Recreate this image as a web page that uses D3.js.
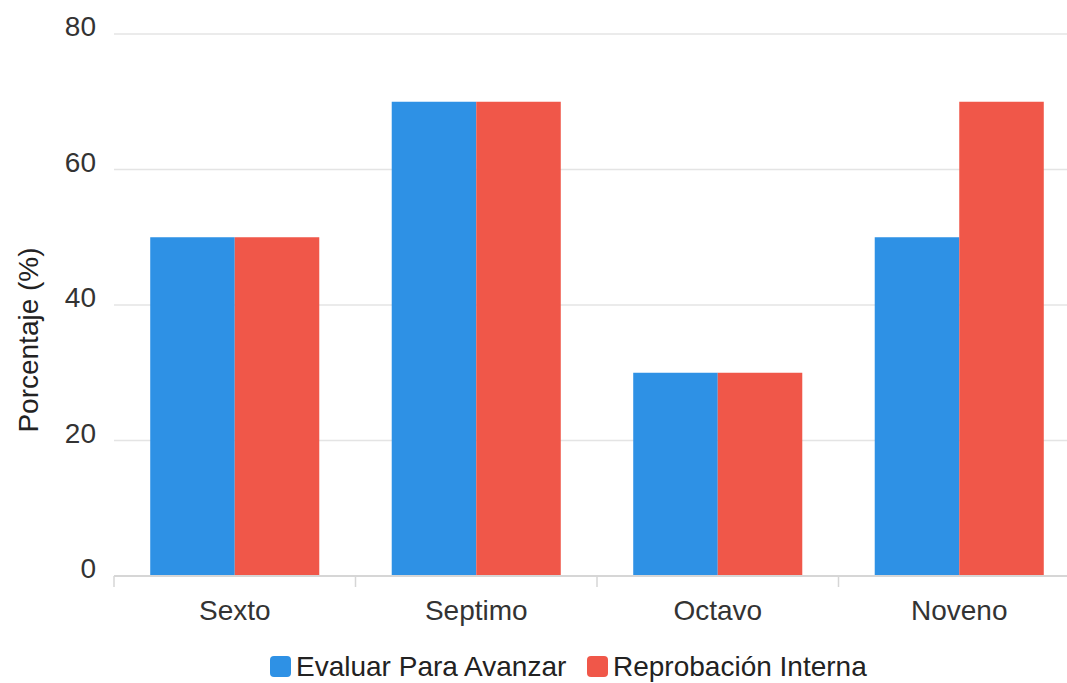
<!DOCTYPE html>
<html>
<head>
<meta charset="utf-8">
<script src="https://cdn.jsdelivr.net/npm/d3@7"></script>
<style>
  html, body { margin: 0; padding: 0; background: #fff; }
  svg { display: block; font-family: "Liberation Sans", Arial, sans-serif; }
</style>
</head>
<body>
<svg id="chart" width="1067" height="683"></svg>
<script>
// Grades and the share (%) of each indicator
const categories = ["Sexto", "Septimo", "Octavo", "Noveno"];
const seriesNames = ["Evaluar Para Avanzar", "Reprobación Interna"];
const evaluarValues = [50, 70, 30, 50];
const reprobacionValues = [50, 70, 30, 70];
const yTicks = [0, 20, 40, 60, 80];
const colors = ["#2e91e5", "#f05749"];

const seriesValues = [evaluarValues, reprobacionValues];
const rows = categories.map((c, i) => ({
  cat: c,
  vals: seriesNames.map((s, j) => ({ key: s, value: seriesValues[j][i], color: colors[j] }))
}));

const svg = d3.select("#chart");
const fontFamily = "'Liberation Sans', Arial, sans-serif";
const plotLeft = 114, plotRight = 1080, plotTop = 34, plotBottom = 576;

const x0 = d3.scaleBand().domain(categories).range([plotLeft, plotRight]).padding(0);
const bw = x0.bandwidth();
const x1 = d3.scaleBand().domain(seriesNames).range([bw * 0.15, bw * 0.85]).padding(0);
const y = d3.scaleLinear().domain([0, 80]).range([plotBottom, plotTop]);

// horizontal gridlines
svg.append("g")
  .selectAll("line")
  .data(yTicks.filter(t => t > 0))
  .join("line")
  .attr("x1", plotLeft).attr("x2", plotRight)
  .attr("y1", d => y(d)).attr("y2", d => y(d))
  .attr("stroke", "#e4e4e4").attr("stroke-width", 1.6);

// y tick labels
svg.append("g")
  .selectAll("text")
  .data(yTicks)
  .join("text")
  .attr("x", 96)
  .attr("y", d => y(d) + 2)
  .attr("text-anchor", "end")
  .attr("font-size", 28)
  .attr("fill", "#333")
  .text(d => d);

// bars
const groups = svg.append("g")
  .selectAll("g")
  .data(rows)
  .join("g")
  .attr("transform", d => `translate(${x0(d.cat)},0)`);

groups.selectAll("rect")
  .data(d => d.vals)
  .join("rect")
  .attr("x", d => x1(d.key))
  .attr("width", x1.bandwidth())
  .attr("y", d => y(d.value))
  .attr("height", d => y(0) - y(d.value))
  .attr("fill", d => d.color);

// x axis
const xAxis = d3.axisBottom(x0).tickSize(0).tickPadding(0);
const gx = svg.append("g").attr("transform", `translate(0,${plotBottom})`).call(xAxis);
gx.select(".domain").remove();
gx.selectAll("text")
  .attr("font-size", 28)
  .attr("font-family", fontFamily)
  .attr("fill", "#333")
  .attr("dy", null)
  .attr("y", 44);

svg.append("line")
  .attr("x1", plotLeft).attr("x2", plotRight)
  .attr("y1", plotBottom).attr("y2", plotBottom)
  .attr("stroke", "#d6d6d6").attr("stroke-width", 2);

const boundaries = categories.map(c => x0(c)).concat([x0(categories[categories.length - 1]) + bw]);
svg.append("g")
  .selectAll("line")
  .data(boundaries)
  .join("line")
  .attr("x1", d => d).attr("x2", d => d)
  .attr("y1", plotBottom).attr("y2", plotBottom + 11)
  .attr("stroke", "#d6d6d6").attr("stroke-width", 1.5);

// y axis title
svg.append("text")
  .attr("transform", "translate(38,340) rotate(-90)")
  .attr("text-anchor", "middle")
  .attr("font-size", 28)
  .attr("fill", "#222")
  .text("Porcentaje (%)");

// legend
const legendItems = [
  { name: seriesNames[0], color: colors[0], x: 270 },
  { name: seriesNames[1], color: colors[1], x: 587 }
];
const lg = svg.append("g").selectAll("g").data(legendItems).join("g")
  .attr("transform", d => `translate(${d.x},0)`);
lg.append("rect")
  .attr("x", 0).attr("y", 656).attr("width", 21).attr("height", 21)
  .attr("rx", 4).attr("fill", d => d.color);
lg.append("text")
  .attr("x", 26).attr("y", 676)
  .attr("font-size", 28)
  .attr("fill", "#222")
  .text(d => d.name);
</script>
</body>
</html>
